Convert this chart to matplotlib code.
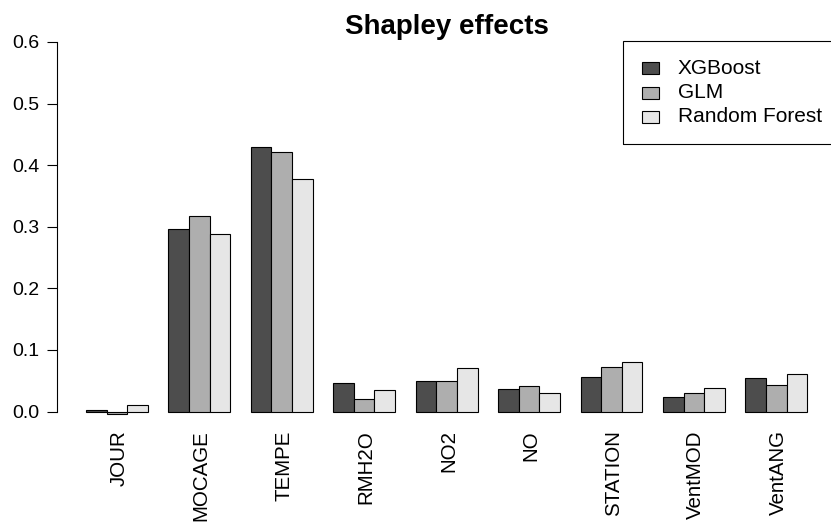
import matplotlib
matplotlib.use("Agg")
import matplotlib.pyplot as plt
from matplotlib.patches import Rectangle
from matplotlib.transforms import ScaledTranslation
import numpy as np

plt.rcParams['font.family'] = ['Liberation Sans', 'DejaVu Sans']

variables = ["JOUR", "MOCAGE", "TEMPE", "RMH2O", "NO2", "NO", "STATION", "VentMOD", "VentANG"]
series_names = ["XGBoost", "GLM", "Random Forest"]
xgboost = [0.003, 0.296, 0.429, 0.046, 0.050, 0.036, 0.056, 0.023, 0.055]
glm = [-0.004, 0.318, 0.421, 0.020, 0.050, 0.042, 0.073, 0.030, 0.043]
random_forest = [0.011, 0.288, 0.378, 0.035, 0.071, 0.030, 0.081, 0.038, 0.061]
colors = ["#4D4D4D", "#AEAEAE", "#E6E6E6"]
yticks = [0.0, 0.1, 0.2, 0.3, 0.4, 0.5, 0.6]

W, H = 831, 523
fig = plt.figure(figsize=(W / 100, H / 100), dpi=100)

def fx(px):
    return px / W

def fy(py):
    return 1 - py / H

# plot region in pixels (R-style 4% expansion)
left_px, right_px = 57.2, 836.0
top_px, bottom_px = 27.2, 426.3
ax = fig.add_axes([fx(left_px), fy(bottom_px), fx(right_px) - fx(left_px), fy(top_px) - fy(bottom_px)])
ax.set_xlim(-0.4, 37.4)
ax.set_ylim(-0.024, 0.624)
ax.patch.set_alpha(0)

all_series = [xgboost, glm, random_forest]
n = len(variables)
group_start = np.arange(n) * 4 + 1
for i, (vals, col) in enumerate(zip(all_series, colors)):
    ax.bar(group_start + i + 0.5, vals, width=1.0, color=col, edgecolor="black",
           linewidth=0.8, label=series_names[i])

ax.set_xticks(group_start + 1.5)
ax.set_xticklabels(variables, rotation=90, fontsize=14.8, va="top", ha="center")
ax.tick_params(axis="x", length=0, pad=3)
shift = ScaledTranslation(2 / 100, 0, fig.dpi_scale_trans)
for lab in ax.get_xticklabels():
    lab.set_transform(lab.get_transform() + shift)

ax.set_yticks(yticks)
ax.set_yticklabels([f"{v:.1f}" for v in yticks], fontsize=14)
ax.tick_params(axis="y", length=7, width=0.8, pad=6, direction="out")
for s in ["top", "right", "bottom"]:
    ax.spines[s].set_visible(False)
ax.spines["left"].set_bounds(0, 0.6)
ax.spines["left"].set_linewidth(0.8)

fig.text(fx((left_px + right_px) / 2), fy(27), "Shapley effects", fontsize=20,
         fontweight="bold", ha="center", va="center")

# legend (R-style, box running off the right edge)
fig.add_artist(Rectangle((fx(623), fy(144)), fx(845) - fx(623), fy(41) - fy(144),
                         transform=fig.transFigure, fill=False, edgecolor="black",
                         linewidth=0.8, clip_on=False))
row_y = [68, 93, 117]
for name, col, ry in zip(series_names, colors, row_y):
    fig.add_artist(Rectangle((fx(642), fy(ry + 6)), fx(659) - fx(642), fy(ry - 6) - fy(ry + 6),
                             transform=fig.transFigure, facecolor=col, edgecolor="black",
                             linewidth=0.8))
    fig.text(fx(678), fy(ry), name, fontsize=15, ha="left", va="center")

fig.savefig("out.png", dpi=100)
